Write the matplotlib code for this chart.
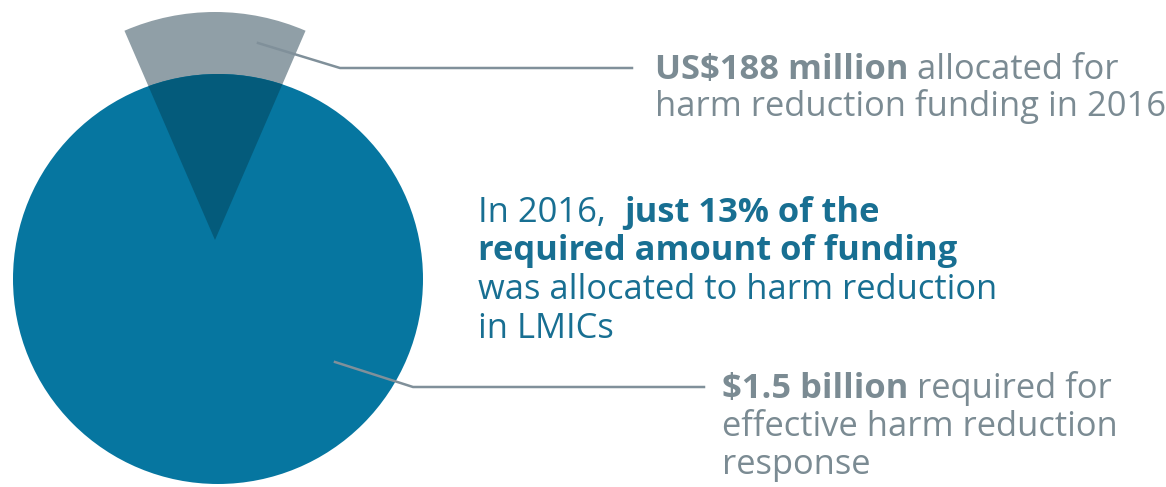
import matplotlib.pyplot as plt
from matplotlib.patches import Circle, Wedge

# values from the chart
allocated_musd = 188      # US$ million allocated in 2016
required_musd = 1500      # US$ million required
share_pct = 13            # share of required amount that was allocated

top_lines = [[("US$188 million", "bold"), (" allocated for", "normal")],
             [("harm reduction funding in 2016", "normal")]]
mid_lines = [[("In 2016,  ", "normal"), ("just 13% of the", "bold")],
             [("required amount of funding", "bold")],
             [("was allocated to harm reduction", "normal")],
             [("in LMICs", "normal")]]
bottom_lines = [[("$1.5 billion", "bold"), (" required for", "normal")],
                [("effective harm reduction", "normal")],
                [("response", "normal")]]

teal = '#0676A0'
dark_teal = '#045B7B'
wedge_gray = '#909FA7'
text_gray = '#7B8B93'
text_teal = '#186F92'
fs = 24.8


def draw_block(ax, x, y0, step, lines, color):
    for i, parts in enumerate(lines):
        y = y0 + i * step
        prev = None
        for txt, w in parts:
            if prev is None:
                prev = ax.text(x, y, txt, fontsize=fs, fontweight=w, color=color,
                               family='Open Sans', va='baseline', ha='left')
            else:
                prev = ax.annotate(txt, xy=(1, y), xycoords=(prev, 'data'),
                                   fontsize=fs, fontweight=w, color=color,
                                   family='Open Sans', va='baseline', ha='left')


fig = plt.figure(figsize=(11.66, 4.87), dpi=100)
ax = fig.add_axes([0, 0, 1, 1])
ax.set_xlim(0, 1166)
ax.set_ylim(487, 0)
ax.axis('off')

half = share_pct / 100 * 360 / 2
apex = (215, 240)
gray_wedge = Wedge(apex, 228, 270 - half, 270 + half, color=wedge_gray, lw=0)
ax.add_patch(gray_wedge)
circle = Circle((218, 279), 205, color=teal, lw=0)
ax.add_patch(circle)
dark = Wedge(apex, 228, 270 - half, 270 + half, color=dark_teal, lw=0)
ax.add_patch(dark)
dark.set_clip_path(circle)

# leader lines
ax.plot([258, 340, 632], [43, 68, 68], color='#80909A', lw=1.8)
ax.plot([335, 413, 704], [362, 387, 387], color='#80909A', lw=1.8)

draw_block(ax, 655, 79, 37.5, top_lines, text_gray)
draw_block(ax, 478, 222, 38.5, mid_lines, text_teal)
draw_block(ax, 722, 398, 38, bottom_lines, text_gray)

fig.savefig('out.png', dpi=100, facecolor='white')
